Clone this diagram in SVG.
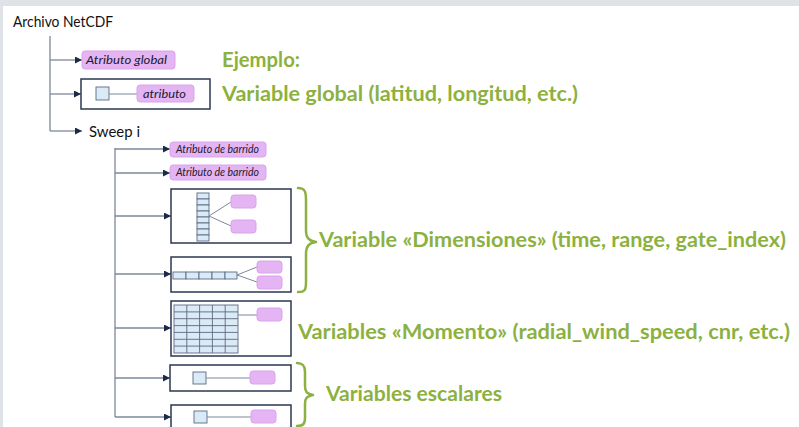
<svg xmlns="http://www.w3.org/2000/svg" width="799" height="427" viewBox="0 0 799 427">
<defs>
<style>
.lbl{font-family:Lato,"Open Sans","Liberation Sans",sans-serif;fill:#111}
.big{font-family:Lato,"Open Sans","Liberation Sans",sans-serif;font-weight:bold;fill:#8cb140;font-size:21px}
.att{font-family:Lato,"Open Sans","Liberation Sans",sans-serif;font-style:italic;fill:#1a1a2e}
.pink{fill:#e4b4f3;stroke:#d8a4ea;stroke-width:1}
.box{fill:#fff;stroke:#2c3850;stroke-width:1.5}
.cell{fill:#dbeaf7;stroke:#5b6a80;stroke-width:0.9}
.con{fill:none;stroke:#7d889a;stroke-width:1.3}
.thin{fill:none;stroke:#7d889a;stroke-width:1}
.brace{fill:none;stroke:#8cb140;stroke-width:2.5;stroke-linecap:round;stroke-linejoin:round}
</style>
<marker id="arr" viewBox="0 0 10 10" refX="10" refY="5" markerWidth="7" markerHeight="7" markerUnits="userSpaceOnUse" orient="auto">
<path d="M0,0 L10,5 L0,10 z" fill="#1c2a48"/>
</marker>
</defs>
<rect x="0" y="0" width="799" height="427" fill="#fff"/>
<rect x="0" y="0" width="799" height="6" fill="#dfe2e7"/>
<rect x="0" y="0" width="3" height="427" fill="#dfe2e7"/>

<g id="connectors">
<path class="con" d="M50,36 V131"/>
<path class="con" d="M50,60 H82" marker-end="url(#arr)"/>
<path class="con" d="M50,94 H81" marker-end="url(#arr)"/>
<path class="con" d="M50,131 H82" marker-end="url(#arr)"/>
<path class="con" d="M115,148 V417"/>
<path class="con" d="M115,149 H170" marker-end="url(#arr)"/>
<path class="con" d="M115,173 H170" marker-end="url(#arr)"/>
<path class="con" d="M115,216 H171" marker-end="url(#arr)"/>
<path class="con" d="M115,274 H171" marker-end="url(#arr)"/>
<path class="con" d="M115,328 H171" marker-end="url(#arr)"/>
<path class="con" d="M115,378 H170" marker-end="url(#arr)"/>
<path class="con" d="M115,417 H171" marker-end="url(#arr)"/>
</g>

<g id="root"><text class="lbl" x="13" y="27" font-size="14.5" textLength="100" lengthAdjust="spacingAndGlyphs">Archivo NetCDF</text></g>

<g id="atributo-global">
<rect class="pink" x="82" y="51" width="93" height="18" rx="3"/>
<text class="att" x="86" y="64" font-size="11.5" textLength="81" lengthAdjust="spacingAndGlyphs">Atributo global</text>
</g>

<g id="variable-global">
<rect class="box" x="81" y="79" width="129" height="30"/>
<rect class="cell" x="96" y="87" width="13" height="13"/>
<path class="thin" d="M109,94 H137"/>
<rect class="pink" x="137" y="85" width="57" height="17" rx="3"/>
<text class="att" x="143" y="98" font-size="12" textLength="43" lengthAdjust="spacingAndGlyphs">atributo</text>
</g>

<g id="sweep"><text class="lbl" x="89" y="137" font-size="14.5" textLength="51" lengthAdjust="spacingAndGlyphs">Sweep i</text></g>

<g id="atributo-barrido-1">
<rect class="pink" x="170" y="142" width="96" height="15" rx="3"/>
<text class="att" x="176" y="153" font-size="10.5" textLength="83" lengthAdjust="spacingAndGlyphs">Atributo de barrido</text>
</g>
<g id="atributo-barrido-2">
<rect class="pink" x="170" y="165" width="96" height="15" rx="3"/>
<text class="att" x="176" y="176" font-size="10.5" textLength="83" lengthAdjust="spacingAndGlyphs">Atributo de barrido</text>
</g>

<g id="dim-var-1">
<rect class="box" x="171" y="189" width="120" height="54"/>
<g>
<rect class="cell" x="197" y="193" width="12" height="6"/>
<rect class="cell" x="197" y="199" width="12" height="6"/>
<rect class="cell" x="197" y="205" width="12" height="6"/>
<rect class="cell" x="197" y="211" width="12" height="6"/>
<rect class="cell" x="197" y="217" width="12" height="6"/>
<rect class="cell" x="197" y="223" width="12" height="6"/>
<rect class="cell" x="197" y="229" width="12" height="6"/>
<rect class="cell" x="197" y="235" width="12" height="6"/>
</g>
<path class="thin" d="M209,216 L231,202 M209,216 L231,226"/>
<rect class="pink" x="231" y="195" width="25" height="13" rx="3"/>
<rect class="pink" x="231" y="220" width="25" height="13" rx="3"/>
</g>

<g id="dim-var-2">
<rect class="box" x="171" y="257" width="120" height="35"/>
<rect class="cell" x="173" y="272" width="13" height="7"/>
<rect class="cell" x="186" y="272" width="13" height="7"/>
<rect class="cell" x="199" y="272" width="13" height="7"/>
<rect class="cell" x="212" y="272" width="13" height="7"/>
<rect class="cell" x="225" y="272" width="12" height="7"/>
<path class="thin" d="M237,275 L257,267 M237,275 L257,282"/>
<rect class="pink" x="257" y="261" width="25" height="12" rx="3"/>
<rect class="pink" x="257" y="276" width="25" height="13" rx="3"/>
</g>

<g id="momento-var">
<rect class="box" x="171" y="301" width="120" height="55"/>
<rect class="cell" x="174" y="305" width="64" height="48"/>
<path fill="none" stroke="#5b6a80" stroke-width="0.9" d="M186.8,305 V353 M199.6,305 V353 M212.4,305 V353 M225.2,305 V353 M174,311.9 H238 M174,318.7 H238 M174,325.6 H238 M174,332.4 H238 M174,339.3 H238 M174,346.1 H238"/>
<path class="thin" d="M238,315 H257"/>
<rect class="pink" x="257" y="308" width="25" height="13" rx="3"/>
</g>

<g id="escalar-1">
<rect class="box" x="170" y="365" width="121" height="26"/>
<rect class="cell" x="193" y="372" width="13" height="12"/>
<path class="thin" d="M206,378 H250"/>
<rect class="pink" x="250" y="371" width="25" height="13" rx="3"/>
</g>

<g id="escalar-2">
<rect class="box" x="171" y="405" width="120" height="30"/>
<rect class="cell" x="194" y="411" width="13" height="12"/>
<path class="thin" d="M207,417 H251"/>
<rect class="pink" x="251" y="410" width="25" height="13" rx="3"/>
</g>

<g id="labels">
<text class="big" x="222" y="67" textLength="78" lengthAdjust="spacingAndGlyphs">Ejemplo:</text>
<text class="big" x="222" y="101" textLength="356" lengthAdjust="spacingAndGlyphs">Variable global (latitud, longitud, etc.)</text>
<path class="brace" d="M298,188 C305,188 306,192 306,200 V230 C306,238 309,241 316,242 C309,243 306,246 306,254 V282 C306,290 305,292 298,292"/>
<text class="big" x="319" y="247" textLength="467" lengthAdjust="spacingAndGlyphs">Variable «Dimensiones» (time, range, gate_index)</text>
<text class="big" x="298" y="339" textLength="492" lengthAdjust="spacingAndGlyphs">Variables «Momento» (radial_wind_speed, cnr, etc.)</text>
<path class="brace" d="M297,363 C303,363 305,366 305,372 V386 C305,392 307,394 313,395 C307,396 305,398 305,404 V418 C305,424 303,426 297,426"/>
<text class="big" x="326" y="401" textLength="176" lengthAdjust="spacingAndGlyphs">Variables escalares</text>
</g>
</svg>
